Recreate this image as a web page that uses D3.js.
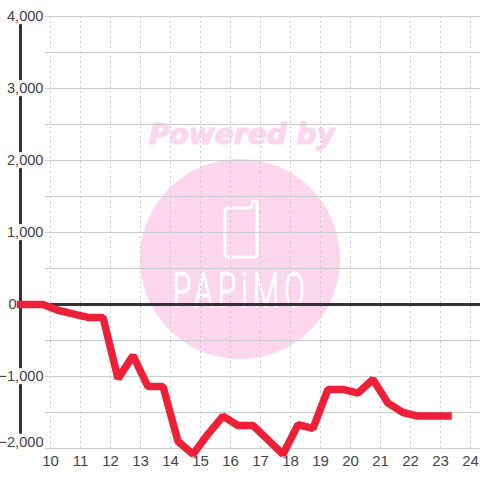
<!DOCTYPE html>
<html><head><meta charset="utf-8">
<style>html,body{margin:0;padding:0;background:#fff}svg{display:block}</style>
<script src="https://cdn.jsdelivr.net/npm/d3@7"></script></head>
<body><svg id="c" width="480" height="480"></svg>
<script>
const hours=[9,9.75,10.25,10.75,11.25,11.75,12.25,12.75,13.25,13.75,14.25,14.75,15.25,15.75,16.25,16.75,17.25,17.75,18.25,18.75,19.25,19.75,20.25,20.75,21.25,21.75,22.25,22.75,23.25];
const values=[0,0,-80,-130,-180,-180,-1030,-710,-1140,-1140,-1900,-2080,-1800,-1550,-1680,-1680,-1880,-2080,-1670,-1720,-1180,-1180,-1230,-1040,-1370,-1500,-1550,-1550,-1550];
const xTicks=[10,11,12,13,14,15,16,17,18,19,20,21,22,23,24];
const yLabelTicks=[-2000,-1000,0,1000,2000,3000,4000];
const yGridTicks=[-2000,-1500,-1000,-500,0,500,1000,1500,2000,2500,3000,3500,4000];
const watermarkTop="Powered by", watermarkName="PAPiMO";

const svg=d3.select("#c");
const x=d3.scaleLinear().domain([9,25]).range([20.5,500.5]);
const y=d3.scaleLinear().domain([-2000,4000]).range([448.5,16.5]);
const pink="#fbd6ed";

// watermark
const wm=svg.append("g");
wm.append("circle").attr("cx",240).attr("cy",259).attr("r",100).attr("fill",pink);
wm.append("text").text(watermarkTop).attr("x",242).attr("y",144).attr("text-anchor","middle")
  .attr("font-family","DejaVu Sans").attr("font-weight","bold").attr("font-style","italic")
  .attr("font-size",29).attr("textLength",186).attr("lengthAdjust","spacingAndGlyphs")
  .attr("fill",pink).attr("stroke",pink).attr("stroke-width",1.2);
wm.append("path").attr("d","M229 208H250Q252 207 252 204Q253 201 255 201Q257 201 257 204V253Q257 257 253 257H229Q225 257 225 253V212Q225 208 229 208Z")
  .attr("fill","none").attr("stroke","#fff").attr("stroke-width",3);
wm.append("g").attr("transform","translate(173,306) scale(0.65,1)")
  .append("text").text(watermarkName)
  .attr("font-family","Roboto").attr("font-weight",100).attr("font-size",46).attr("letter-spacing",8.6)
  .attr("fill","#fff").attr("stroke","#fff").attr("stroke-width",2.2).attr("vector-effect","non-scaling-stroke");

// grid
const gy=svg.append("g").attr("transform","translate(480,0)")
  .call(d3.axisLeft(y).offset(0).tickValues(yGridTicks).tickSize(435).tickFormat(""));
gy.select(".domain").remove();
gy.selectAll(".tick line").attr("stroke","#ccc").attr("stroke-width",1);
const gx=svg.append("g").attr("transform","translate(0,448)")
  .call(d3.axisTop(x).offset(0).tickValues(xTicks).tickSize(432).tickFormat(""));
gx.select(".domain").remove();
gx.selectAll(".tick line").attr("stroke","#ccc").attr("stroke-dasharray","2,3");

// axes lines
svg.append("line").attr("x1",x(9)).attr("x2",x(9)).attr("y1",y(4000)).attr("y2",y(-2000)).attr("stroke","#333").attr("stroke-width",3);
svg.append("line").attr("x1",x(9)).attr("x2",480).attr("y1",y(0)).attr("y2",y(0)).attr("stroke","#333").attr("stroke-width",3);

// y labels
const fmt=d3.format(",");
const ya=svg.append("g").attr("transform","translate(43.5,0)")
  .call(d3.axisLeft(y).offset(0).tickValues(yLabelTicks).tickSize(0).tickPadding(0).tickFormat(fmt));
ya.select(".domain").remove();
ya.selectAll("text").attr("font-family","Liberation Sans").attr("font-size",14.6).attr("fill","#444")
  .attr("dy",d=>d===-2000?"-0.13em":"0.32em")
  .attr("dx",d=>d===0?-27:0);
ya.selectAll(".tick").each(function(){
  const t=d3.select(this).select("text"), b=t.node().getBBox();
  d3.select(this).insert("rect","text").attr("x",b.x).attr("y",b.y).attr("width",b.width).attr("height",b.height).attr("fill","#fff");
});

// x labels
const xa=svg.append("g").attr("transform","translate(0,448)")
  .call(d3.axisBottom(x).offset(0).tickValues(xTicks).tickSize(0).tickPadding(7).tickFormat(d3.format("d")));
xa.select(".domain").remove();
xa.selectAll("text").attr("font-family","Liberation Sans").attr("font-size",15).attr("fill","#444");

// series
const line=d3.line().x((d,i)=>x(hours[i])).y(d=>y(d));
svg.append("path").datum(values).attr("d",line).attr("fill","none").attr("stroke","#ee2038")
  .attr("stroke-width",7.5).attr("stroke-linecap","square").attr("stroke-linejoin","bevel");
</script></body></html>
